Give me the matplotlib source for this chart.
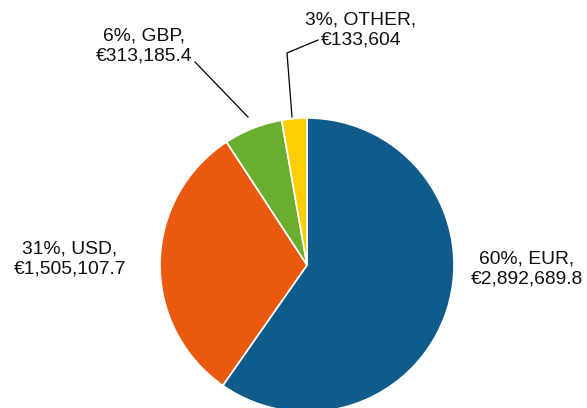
import matplotlib.pyplot as plt

currencies = ['EUR', 'USD', 'GBP', 'OTHER']
amounts = [2892689.8, 1505107.7, 313185.4, 133604]
colors = ['#0f5b8c', '#ea590d', '#6aae30', '#fdcd05']

plt.rcParams['font.family'] = ['Liberation Sans', 'DejaVu Sans']

fig = plt.figure(figsize=(5.87, 4.08), dpi=100)
ax = fig.add_axes([0, 0, 1, 1])
ax.set_xlim(0, 587)
ax.set_ylim(0, 408)
ax.set_aspect('equal')
ax.axis('off')

# pie in pixel-like coords (y measured from bottom)
ax.pie(amounts, colors=colors, startangle=90, counterclock=False,
       radius=147, center=(307, 143),
       wedgeprops=dict(edgecolor='white', linewidth=1.2))
ax.set_xlim(0, 587)
ax.set_ylim(0, 408)

total = sum(amounts)

def label(i):
    pct = round(amounts[i] / total * 100)
    v = amounts[i]
    if v == int(v):
        s = '{:,}'.format(int(v))
    else:
        s = '{:,.1f}'.format(v)
    return '{}%, {},\n€{}'.format(pct, currencies[i], s)

pos = [(527, 139), (70, 149), (144, 362), (361, 378)]
for i in range(len(amounts)):
    ax.text(pos[i][0], pos[i][1], label(i), ha='center', va='center',
            fontsize=13.9, color='#111111', linespacing=1.2)

# leader lines
ax.plot([195, 248], [408 - 62, 408 - 117], color='black', lw=0.9)
ax.plot([318, 287, 292], [408 - 40, 408 - 53, 408 - 117], color='black', lw=0.9)

fig.savefig('out.png', dpi=100)
